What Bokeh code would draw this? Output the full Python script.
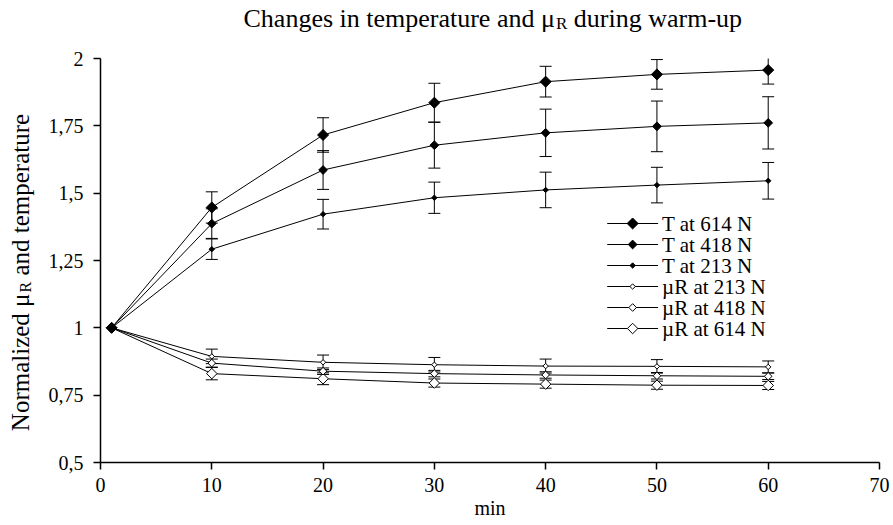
import math
from bokeh.plotting import figure
from bokeh.layouts import column, row
from bokeh.models import (ColumnDataSource, Whisker, TeeHead, FixedTicker, Range1d)
from bokeh.core.properties import value
from bokeh.embed import file_html
from bokeh.resources import INLINE

# ---- data ----
minutes = [1, 10, 20, 30, 40, 50, 60]

t614 = [1, 1.447, 1.716, 1.836, 1.914, 1.941, 1.957]
t614_err = [0, 0.058, 0.064, 0.072, 0.057, 0.055, 0.052]
t418 = [1, 1.387, 1.586, 1.678, 1.724, 1.748, 1.761]
t418_err = [0, 0.055, 0.072, 0.085, 0.088, 0.094, 0.097]
t213 = [1, 1.292, 1.422, 1.483, 1.512, 1.530, 1.546]
t213_err = [0, 0.038, 0.055, 0.058, 0.066, 0.066, 0.068]
mu213 = [1, 0.894, 0.872, 0.863, 0.858, 0.857, 0.855]
mu213_err = [0, 0.027, 0.027, 0.027, 0.026, 0.025, 0.022]
mu418 = [1, 0.869, 0.839, 0.830, 0.825, 0.822, 0.820]
mu418_err = [0, 0.015, 0.012, 0.012, 0.012, 0.012, 0.012]
mu614 = [1, 0.830, 0.811, 0.795, 0.791, 0.787, 0.786]
mu614_err = [0, 0.023, 0.022, 0.015, 0.015, 0.015, 0.015]

series_labels = ["T at 614 N", "T at 418 N", "T at 213 N",
                 "\u00b5R at 213 N", "\u00b5R at 418 N", "\u00b5R at 614 N"]
y_ticks = [0.5, 0.75, 1, 1.25, 1.5, 1.75, 2]
y_tick_labels = ["0,5", "0,75", "1", "1,25", "1,5", "1,75", "2"]
x_ticks = [0, 10, 20, 30, 40, 50, 60, 70]
title_parts = ["Changes in temperature and \u03bc", "R", "during warm-up"]
ylabel_parts = ["Normalized \u03bc", "R", "and temperature"]

FONT = "Liberation Serif"

# approximate Times advance widths (per em) for laying out sub-scripted texts
TW = {" ": .25, "C": .667, "N": .722, "R": .667, "a": .444, "d": .5, "e": .444,
      "g": .5, "h": .5, "i": .278, "l": .278, "m": .778, "n": .5, "o": .5,
      "p": .5, "r": .333, "s": .389, "t": .278, "u": .5, "w": .722, "z": .444,
      "-": .333, "\u03bc": .576}


def tw(s, px):
    return sum(TW.get(c, .5) for c in s) * px


def bare(fig):
    fig.outline_line_color = None
    fig.grid.visible = False
    fig.background_fill_color = "white"
    fig.border_fill_color = "white"
    return fig


# ---------------- title strip ----------------
TW_, TH_ = 893, 44
tfig = bare(figure(width=TW_, height=TH_, x_range=(0, TW_), y_range=(0, TH_),
                   output_backend="svg", toolbar_location=None,
                   x_axis_location=None, y_axis_location=None, min_border=0))
tfs, tsub = 26, 17
t_start = 243
x1 = t_start + tw(title_parts[0], tfs)
x2 = x1 + tw("R", tsub) + tw(" ", tfs)
base_y = 26
for xx, yy, txt, fs in [(t_start, base_y, title_parts[0], tfs),
                        (x1, base_y - 5, title_parts[1], tsub),
                        (x2, base_y, title_parts[2], tfs)]:
    tfig.text(x=[xx], y=[yy], text=[txt], text_font=value(FONT),
              text_font_size=f"{fs}px", text_baseline="alphabetic",
              text_align="left", text_color="black")

# ---------------- main plot ----------------
MW, MH = 848, 481
BL, BR, BT, BB = 53, 14, 14, 63
p = figure(width=MW, height=MH, x_range=(0, 70), y_range=(0.5, 2),
           output_backend="svg", toolbar_location=None,
           min_border_left=BL, min_border_right=BR, min_border_top=BT,
           min_border_bottom=BB)
bare(p)

for ax in (p.xaxis[0], p.yaxis[0]):
    ax.axis_line_color = "black"
    ax.axis_line_width = 1.5
    ax.major_tick_line_color = "black"
    ax.major_tick_line_width = 1.5
    ax.major_tick_out = 7
    ax.major_tick_in = 0
    ax.minor_tick_line_color = None
    ax.major_label_text_font = FONT
    ax.major_label_text_font_size = "20px"
    ax.major_label_text_color = "black"

p.yaxis.ticker = FixedTicker(ticks=y_ticks)
p.yaxis.major_label_overrides = {t: l for t, l in zip(y_ticks, y_tick_labels)}
p.yaxis.major_label_standoff = 10
p.xaxis.ticker = FixedTicker(ticks=x_ticks)
p.xaxis.major_label_standoff = 8
p.xaxis.axis_label = "min"
p.xaxis.axis_label_text_font = FONT
p.xaxis.axis_label_text_font_size = "20px"
p.xaxis.axis_label_text_font_style = "normal"
p.xaxis.axis_label_text_color = "black"
p.xaxis.axis_label_standoff = 2

specs = [
    (t614, t614_err, 7.8, "black"),
    (t418, t418_err, 6.2, "black"),
    (t213, t213_err, 3.8, "black"),
    (mu213, mu213_err, 3.8, "white"),
    (mu418, mu418_err, 5.4, "white"),
    (mu614, mu614_err, 7.4, "white"),
]

for vals, errs, size, fill in specs:
    p.line(minutes, vals, line_color="black", line_width=1)

for vals, errs, size, fill in specs:
    xs = minutes[1:]
    up = [v + e for v, e in zip(vals[1:], errs[1:])]
    lo = [v - e for v, e in zip(vals[1:], errs[1:])]
    src = ColumnDataSource(dict(x=xs, upper=up, lower=lo))
    w = Whisker(base="x", upper="upper", lower="lower", source=src,
                dimension="height", line_color="black", line_width=1,
                upper_head=TeeHead(size=12, line_color="black", line_width=1),
                lower_head=TeeHead(size=12, line_color="black", line_width=1))
    p.add_layout(w)

for vals, errs, size, fill in reversed(specs):
    p.scatter(minutes, vals, marker="square", angle=math.pi / 4, size=size,
              fill_color=fill, line_color="black", line_width=1)

# ---- legend drawn in frame-pixel coordinates ----
FW, FH = MW - BL - BR, MH - BT - BB
p.extra_x_ranges = {"px": Range1d(0, FW)}
p.extra_y_ranges = {"py": Range1d(0, FH)}
leg_x0, leg_x1, leg_tx = 508, 559, 563
leg_top, leg_step = 239, 21
for i, (lab, (vals, errs, size, fill)) in enumerate(zip(series_labels, specs)):
    yy = leg_top - i * leg_step
    p.segment(x0=[leg_x0], x1=[leg_x1], y0=[yy], y1=[yy], line_color="black",
              line_width=1, x_range_name="px", y_range_name="py")
    p.scatter(x=[(leg_x0 + leg_x1) / 2], y=[yy], marker="square", angle=math.pi / 4,
              size=size, fill_color=fill, line_color="black", line_width=1,
              x_range_name="px", y_range_name="py")
    p.text(x=[leg_tx], y=[yy], text=[lab], text_font=value(FONT),
           text_font_size="21px", text_baseline="middle", text_align="left",
           text_color="black", x_range_name="px", y_range_name="py")

# ---------------- y-label strip (frame aligned with the main frame) ----------------
YW = 893 - MW
yfig = bare(figure(width=YW, height=MH, x_range=(0, YW), y_range=(0, FH),
                   output_backend="svg", toolbar_location=None,
                   x_axis_location=None, y_axis_location=None,
                   min_border_left=0, min_border_right=0,
                   min_border_top=BT, min_border_bottom=BB))
yfs, ysub = 25, 16
frame_top_page = TH_ + BT
center = FH - (272 - frame_top_page)
total = (tw(ylabel_parts[0], yfs) + tw("R", ysub) + tw(" ", yfs)
         + tw(ylabel_parts[2], yfs))
y0 = center - total / 2
y1 = y0 + tw(ylabel_parts[0], yfs)
y2 = y1 + tw("R", ysub) + tw(" ", yfs)
bx = 20
ang = math.pi / 2
for xx, yy, txt, fs in [(bx, y0, ylabel_parts[0], yfs),
                        (bx + 5, y1, ylabel_parts[1], ysub),
                        (bx, y2, ylabel_parts[2], yfs)]:
    yfig.text(x=[xx], y=[yy], text=[txt], angle=ang, text_font=value(FONT),
              text_font_size=f"{fs}px", text_baseline="alphabetic",
              text_align="left", text_color="black")

layout = column(tfig, row(yfig, p))
open("out.html", "w").write(file_html(layout, INLINE))
